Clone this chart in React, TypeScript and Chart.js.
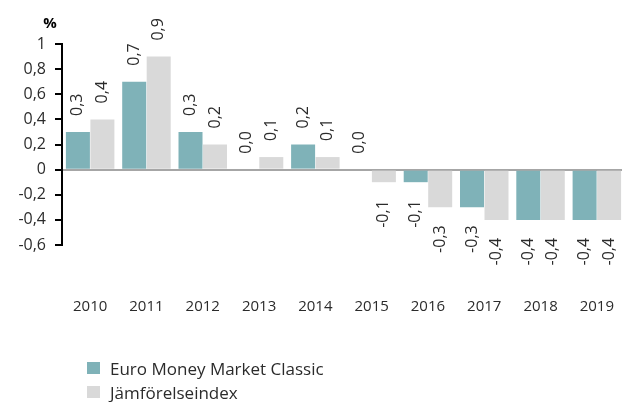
import React, { useEffect, useRef } from "react";
import { Chart, registerables } from "chart.js";

Chart.register(...registerables);

const years = ["2010", "2011", "2012", "2013", "2014", "2015", "2016", "2017", "2018", "2019"];
const fundValues = [0.3, 0.7, 0.3, 0.0, 0.2, 0.0, -0.1, -0.3, -0.4, -0.4];
const indexValues = [0.4, 0.9, 0.2, 0.1, 0.1, -0.1, -0.3, -0.4, -0.4, -0.4];
const seriesNames = ["Euro Money Market Classic", "Jämförelseindex"];
const seriesColors = ["#7fb2b8", "#d9d9d9"];
const unitLabel = "%";

const FONT = "'Open Sans', sans-serif";
const TEXT = "#2b2b2b";

const fmt = (v: number) => Number(v.toFixed(1)).toString().replace(".", ",");
const fmtLabel = (v: number) => v.toFixed(1).replace(".", ",");

const labelPlugin = {
  id: "barLabels",
  afterDatasetsDraw(chart: any) {
    const ctx = chart.ctx;
    ctx.save();
    ctx.font = `16px ${FONT}`;
    ctx.fillStyle = TEXT;
    chart.data.datasets.forEach((ds: any, di: number) => {
      const meta = chart.getDatasetMeta(di);
      meta.data.forEach((el: any, i: number) => {
        const v = ds.data[i];
        if (v === null || v === undefined) return;
        ctx.save();
        if (v >= 0) {
          ctx.translate(el.x, el.y - 16);
          ctx.rotate(-Math.PI / 2);
          ctx.textAlign = "left";
        } else {
          ctx.translate(el.x, el.y + 18);
          ctx.rotate(-Math.PI / 2);
          ctx.textAlign = "right";
        }
        ctx.textBaseline = "middle";
        ctx.fillText(fmtLabel(v), 0, 0);
        ctx.restore();
      });
    });
    ctx.font = `bold 15px ${FONT}`;
    ctx.fillStyle = "#000";
    ctx.textAlign = "center";
    ctx.textBaseline = "middle";
    ctx.fillText(unitLabel, 50, 24);
    ctx.restore();
  },
};

export default function App() {
  const ref = useRef<HTMLCanvasElement | null>(null);

  useEffect(() => {
    if (!ref.current) return;
    const chart = new Chart(ref.current, {
      type: "bar",
      data: {
        labels: years,
        datasets: [
          {
            label: seriesNames[0],
            data: fundValues,
            backgroundColor: seriesColors[0],
            categoryPercentage: 0.87,
            barPercentage: 0.98,
          },
          {
            label: seriesNames[1],
            data: indexValues,
            backgroundColor: seriesColors[1],
            categoryPercentage: 0.87,
            barPercentage: 0.98,
          },
        ],
      },
      options: {
        responsive: false,
        animation: false,
        devicePixelRatio: 1,
        layout: { padding: { top: 44, right: 1, bottom: 0, left: 0 } },
        plugins: {
          legend: { display: false },
          tooltip: { enabled: false },
        },
        scales: {
          x: {
            grid: { display: false, drawTicks: true, tickLength: 50 },
            border: { display: false },
            ticks: {
              padding: 3,
              color: TEXT,
              font: { family: FONT, size: 15 },
              maxRotation: 0,
            },
            afterFit: (s: any) => {
              s.height = 157;
            },
          },
          y: {
            min: -0.6,
            max: 1,
            ticks: {
              stepSize: 0.2,
              padding: 9,
              color: TEXT,
              font: { family: FONT, size: 16 },
              callback: (v: any) => fmt(Number(v)),
            },
            grid: {
              display: true,
              drawOnChartArea: true,
              drawTicks: true,
              tickLength: 7,
              tickColor: "#000",
              tickWidth: 2,
              lineWidth: 2,
              color: (c: any) =>
                c.tick && Math.abs(c.tick.value) < 1e-9 ? "#a6a6a6" : "rgba(0,0,0,0)",
            },
            border: { display: true, color: "#000", width: 2 },
            afterFit: (s: any) => {
              s.width = 62;
            },
          },
        },
      },
      plugins: [labelPlugin],
    });
    return () => chart.destroy();
  }, []);

  return (
    <div
      style={{
        position: "fixed",
        left: 0,
        top: 0,
        width: 622,
        height: 402,
        overflow: "hidden",
        background: "#fff",
      }}
    >
      <canvas ref={ref} width={626} height={402} style={{ display: "block" }} />
      {seriesNames.map((name, i) => (
        <div
          key={name}
          style={{
            position: "absolute",
            left: 87,
            top: 357 + i * 24,
            height: 22,
            display: "flex",
            alignItems: "center",
            fontFamily: FONT,
            fontSize: 17,
            color: TEXT,
            whiteSpace: "nowrap",
          }}
        >
          <span
            style={{
              display: "inline-block",
              width: 13,
              height: 12,
              background: seriesColors[i],
              marginRight: 10,
            }}
          />
          {name}
        </div>
      ))}
    </div>
  );
}
